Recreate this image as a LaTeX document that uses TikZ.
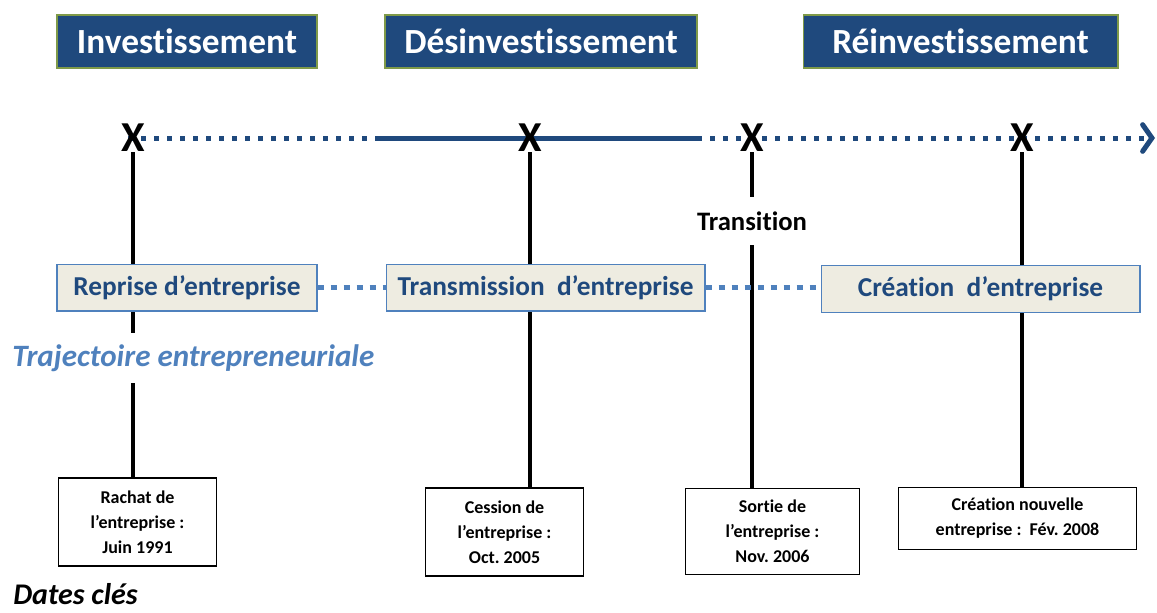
\documentclass[tikz,border=0pt]{standalone}
\usepackage{fontspec}
\setmainfont{Carlito}[Ligatures=NoCommon]
\usetikzlibrary{backgrounds, arrows.meta}
\usepackage{xcolor}
\definecolor{navy}{HTML}{1F497D}
\definecolor{lightblue}{HTML}{4F81BD}
\definecolor{beige}{HTML}{EEECE1}
\definecolor{olive}{HTML}{7F9A48}
\frenchspacing

\begin{document}
\begin{tikzpicture}[x=0.75pt, y=-0.75pt,
  phase/.style={fill=navy, draw=olive, line width=1pt, text=white, font=\bfseries\fontsize{26.5}{30}\selectfont, minimum height=39.75pt, inner sep=0pt},
  mode/.style={fill=beige, draw=lightblue, line width=1pt, text=navy, font=\bfseries\fontsize{20.5}{24}\selectfont, minimum height=35pt, inner sep=0pt},
  datebox/.style={fill=white, draw=black, line width=0.8pt, align=center, font=\bfseries\fontsize{13.5}{18.8}\selectfont, inner sep=0pt},
  xmark/.style={font=\bfseries\fontsize{32}{32}\selectfont, inner sep=0pt},
  timeline/.style={navy, line width=3.75pt},
  dots/.style={dash pattern=on 3.75pt off 6pt},
  stem/.style={black, line width=3pt},
  link/.style={lightblue, line width=3.75pt, dash pattern=on 4.5pt off 5.25pt}]
\useasboundingbox (0,0) rectangle (1157,612);

\node[phase, minimum width=195pt] (invest) at (187,41.5) {Investissement};
\node[phase, minimum width=234pt] (desinvest) at (541,41.5) {Désinvestissement};
\node[phase, minimum width=236pt] (reinvest) at (960.5,41.5) {Réinvestissement};

\node[xmark] (x1) at (133,138) {X};
\node[xmark] (x2) at (530,138) {X};
\node[xmark] (x3) at (752,138) {X};
\node[xmark] (x4) at (1022,138) {X};

\node[font=\bfseries\fontsize{20}{22}\selectfont, fill=white, inner sep=0pt, minimum height=36pt] (transition) at (752,221) {Transition};

\node[mode, minimum width=195pt] (reprise) at (187,287.5) {Reprise d’entreprise};
\node[mode, minimum width=239pt] (transmission) at (545.5,287.5) {Transmission~ d’entreprise};
\node[mode, minimum width=239pt] (creation) at (980.5,289) {Création~ d’entreprise};

\node[font=\bfseries\itshape\fontsize{23.3}{26}\selectfont, text=lightblue, fill=white, inner xsep=0pt, minimum height=37pt, anchor=west] (trajectoire) at (12,358) {Trajectoire entrepreneuriale};

\node[datebox, minimum width=119pt, minimum height=66pt] (rachat) at (137.5,522) {Rachat de\\l’entreprise :\\Juin 1991};
\node[datebox, minimum width=119pt, minimum height=66pt] (cession) at (504.5,532) {Cession de\\l’entreprise :\\Oct. 2005};
\node[datebox, minimum width=131pt, minimum height=65pt] (sortie) at (772.5,531.5) {Sortie de\\l’entreprise :\\Nov. 2006};
\node[datebox, minimum width=179pt, minimum height=46pt] (nouvelle) at (1017.5,518.5) {Création nouvelle\\entreprise :~ Fév. 2008};

\node[font=\bfseries\itshape\fontsize{22.5}{24}\selectfont, inner sep=0pt, anchor=base west] (dates) at (13,604) {Dates clés};

\begin{scope}[on background layer]
\coordinate (t0) at (128,138);
\coordinate (t1) at (378,138);
\coordinate (t2) at (697,138);
\coordinate (tend) at (1155,138);
\draw[timeline, dots] (t0) -- (t1);
\draw[timeline] (t1) -- (t2);
\draw[timeline, dots, -{Straight Barb[length=7pt, width=20pt, line cap=round]}] (t2) -- (tend);

\draw[stem] (x1.south) -- (x1.south |- rachat.north);
\draw[stem] (x2.south) -- (x2.south |- cession.north);
\draw[stem] (x3.south) -- (x3.south |- sortie.north);
\draw[stem] (x4.south) -- (x4.south |- nouvelle.north);

\draw[link] (reprise) -- (transmission);
\draw[link] (transmission.east) -- (transmission.east -| creation.west);
\end{scope}
\end{tikzpicture}
\end{document}
